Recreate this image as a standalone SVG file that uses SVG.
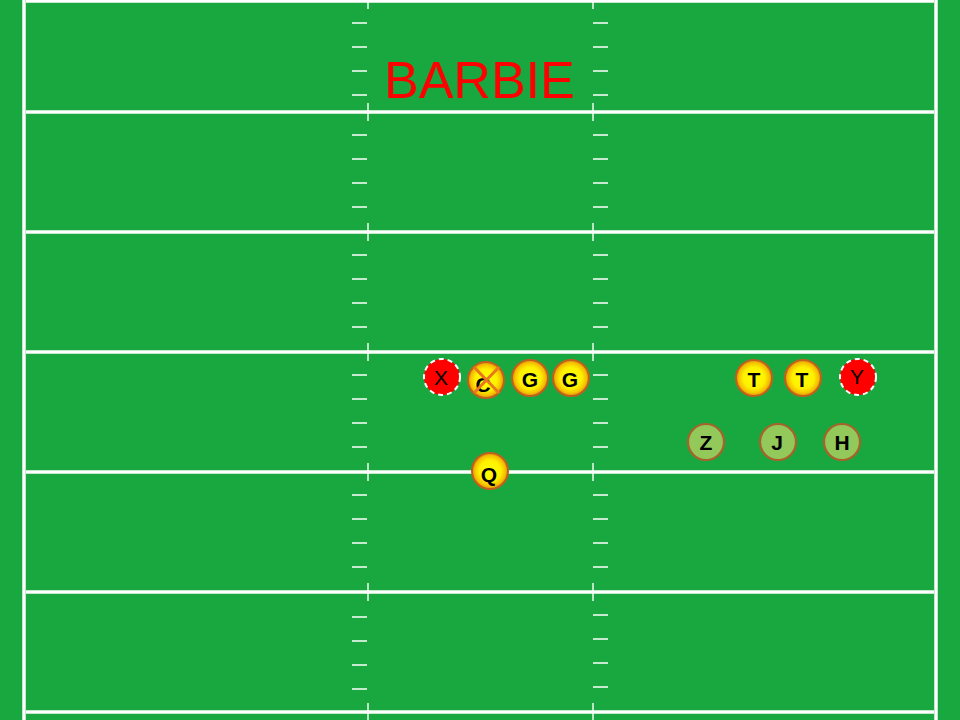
<svg xmlns="http://www.w3.org/2000/svg" width="960" height="720" viewBox="0 0 960 720">
<defs>
<radialGradient id="yel" cx="50%" cy="50%" r="50%">
<stop offset="0" stop-color="#ffff00"/>
<stop offset="0.6" stop-color="#fff000"/>
<stop offset="0.85" stop-color="#f5c000"/>
<stop offset="1" stop-color="#e08a10"/>
</radialGradient>
<style>
.line{stroke:#ffffff;stroke-width:3.5;fill:none}
.tick{stroke:#ffffff;stroke-width:1.4;fill:none}
.off circle{fill:url(#yel);stroke:#c0601c;stroke-width:2}
.back circle{fill:#92c95a;stroke:#a8622a;stroke-width:2.2}
.rec circle{fill:#ff0000;stroke:#ffffff;stroke-width:2;stroke-dasharray:5 4}
.lb{font-family:"Liberation Sans",Arial,sans-serif;font-size:21px;font-weight:bold;fill:#000;text-anchor:middle}
.lr{font-family:"Liberation Sans",Arial,sans-serif;font-size:21px;fill:#000;text-anchor:middle}
</style>
</defs>
<rect x="0" y="0" width="960" height="720" fill="#19a840"/>
<g id="field">
<line class="line" x1="24" y1="0" x2="24" y2="720"/>
<line class="line" x1="936" y1="0" x2="936" y2="720"/>
<line class="line" x1="26" y1="1" x2="934" y2="1"/>
<line class="line" x1="26" y1="112" x2="934" y2="112"/>
<line class="line" x1="26" y1="232" x2="934" y2="232"/>
<line class="line" x1="26" y1="352" x2="934" y2="352"/>
<line class="line" x1="26" y1="472" x2="934" y2="472"/>
<line class="line" x1="26" y1="592" x2="934" y2="592"/>
<line class="line" x1="26" y1="712" x2="934" y2="712"/>
<g id="vticks">
<line class="tick" x1="368" y1="0" x2="368" y2="9"/>
<line class="tick" x1="593" y1="0" x2="593" y2="9"/>
<line class="tick" x1="368" y1="103" x2="368" y2="121"/>
<line class="tick" x1="593" y1="103" x2="593" y2="121"/>
<line class="tick" x1="368" y1="223" x2="368" y2="241"/>
<line class="tick" x1="593" y1="223" x2="593" y2="241"/>
<line class="tick" x1="368" y1="343" x2="368" y2="361"/>
<line class="tick" x1="593" y1="343" x2="593" y2="361"/>
<line class="tick" x1="368" y1="463" x2="368" y2="481"/>
<line class="tick" x1="593" y1="463" x2="593" y2="481"/>
<line class="tick" x1="368" y1="583" x2="368" y2="601"/>
<line class="tick" x1="593" y1="583" x2="593" y2="601"/>
<line class="tick" x1="368" y1="703" x2="368" y2="720"/>
<line class="tick" x1="593" y1="703" x2="593" y2="720"/>
</g>
<g id="hticks">
<path class="tick" d="M352 23H367M352 47H367M352 71H367M352 95H367 M593 23H608M593 47H608M593 71H608M593 95H608"/>
<path class="tick" d="M352 135H367M352 159H367M352 183H367M352 207H367 M593 135H608M593 159H608M593 183H608M593 207H608"/>
<path class="tick" d="M352 255H367M352 279H367M352 303H367M352 327H367 M593 255H608M593 279H608M593 303H608M593 327H608"/>
<path class="tick" d="M352 375H367M352 399H367M352 423H367M352 447H367 M593 375H608M593 399H608M593 423H608M593 447H608"/>
<path class="tick" d="M352 495H367M352 519H367M352 543H367M352 567H367 M593 495H608M593 519H608M593 543H608M593 567H608"/>
<path class="tick" d="M352 617H367M352 641H367M352 665H367M352 689H367 M593 615H608M593 639H608M593 663H608M593 687H608"/>
</g>
</g>
<text id="title" x="384" y="98" font-family="'Liberation Sans',Arial,sans-serif" font-size="52" fill="#ff0000">BARBIE</text>
<g id="connectors"></g>
<g id="node-X" class="rec"><circle cx="442" cy="377" r="18"/><text class="lr" x="441" y="385">X</text></g>
<g id="node-C" class="off"><circle cx="486" cy="380" r="18"/><text class="lb" x="483" y="392">C</text>
<path d="M474 367L499 393M499 367L474 393" stroke="#e8781e" stroke-width="3" fill="none"/></g>
<g id="node-G1" class="off"><circle cx="530" cy="378" r="18"/><text class="lb" x="530" y="387">G</text></g>
<g id="node-G2" class="off"><circle cx="571" cy="378" r="18"/><text class="lb" x="570" y="387">G</text></g>
<g id="node-T1" class="off"><circle cx="754" cy="378" r="18"/><text class="lb" x="754" y="387">T</text></g>
<g id="node-T2" class="off"><circle cx="803" cy="378" r="18"/><text class="lb" x="802" y="387">T</text></g>
<g id="node-Y" class="rec"><circle cx="858" cy="377" r="18"/><text class="lr" x="857" y="384">Y</text></g>
<g id="node-Z" class="back"><circle cx="706" cy="442" r="18"/><text class="lb" x="706" y="450">Z</text></g>
<g id="node-J" class="back"><circle cx="778" cy="442" r="18"/><text class="lb" x="777" y="450">J</text></g>
<g id="node-H" class="back"><circle cx="842" cy="442" r="18"/><text class="lb" x="842" y="450">H</text></g>
<g id="node-Q" class="off"><circle cx="490" cy="471" r="18"/><text class="lb" x="489" y="482">Q</text></g>
</svg>
